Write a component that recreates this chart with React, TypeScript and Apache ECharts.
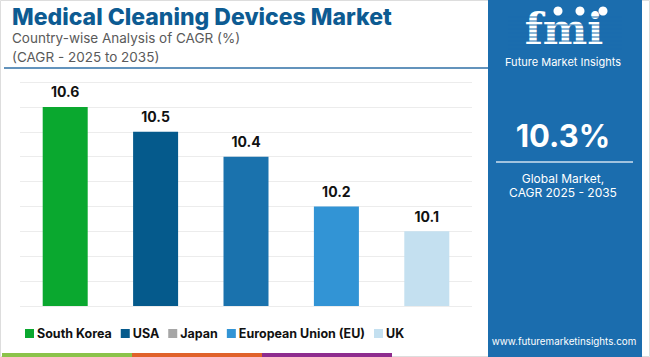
import React, { useEffect, useRef } from "react";
import * as echarts from "echarts";

const categories = ["South Korea", "USA", "Japan", "European Union (EU)", "UK"];
const values = [10.6, 10.5, 10.4, 10.2, 10.1];
const barColors = ["#0aa82f", "#055a8c", "#1a72ad", "#3294d5", "#c4e0f0"];
const legendColors = ["#0aa82f", "#055a8c", "#a6a6a6", "#3294d5", "#c4e0f0"];
const yMin = 9.8;
const yMax = 10.7;
const yStep = 0.1;
const titleText = "Medical Cleaning Devices Market";
const subtitleLines = ["Country-wise Analysis of CAGR (%)", "(CAGR - 2025 to 2035)"];
const globalValue = "10.3%";
const globalLines = ["Global Market,", "CAGR 2025 - 2035"];
const website = "www.futuremarketinsights.com";

const FONT = "Inter, 'Open Sans', sans-serif";

export default function App() {
  const ref = useRef<HTMLDivElement>(null);
  useEffect(() => {
    if (!ref.current) return;
    const chart = echarts.init(ref.current, null, { renderer: "svg" });
    const series = categories.map((name, i) => ({
      name,
      type: "bar",
      barGap: "-100%",
      barWidth: 45,
      data: values.map((v, j) => (j === i ? v : null)),
      itemStyle: { color: barColors[i] },
      label: {
        show: true,
        position: "top",
        distance: 8,
        color: "#111",
        fontFamily: FONT,
        fontWeight: 700,
        fontSize: 14,
        formatter: (p: any) => String(p.value),
      },
    }));
    const stripes: any[] = [];
    for (let y = 17; y <= 49; y += 4) {
      stripes.push({
        type: "line",
        shape: { x1: 508, y1: y, x2: 622, y2: y },
        style: { stroke: "#1b6dae", lineWidth: 1.2 },
        z: 20,
      });
    }
    chart.setOption({
      animation: false,
      backgroundColor: "#ffffff",
      grid: { left: 20, right: 178, top: 82, bottom: 51 },
      xAxis: {
        type: "category",
        data: categories,
        axisLine: { show: false },
        axisTick: { show: false },
        axisLabel: { show: false },
      },
      yAxis: {
        type: "value",
        min: yMin,
        max: yMax,
        interval: yStep,
        axisLabel: { show: false },
        axisLine: { show: false },
        axisTick: { show: false },
        splitLine: { lineStyle: { color: "#ececec", width: 1 } },
      },
      legend: {
        left: 20,
        top: 322,
        itemWidth: 9,
        itemHeight: 9,
        itemGap: 9,
        icon: "rect",
        textStyle: { fontFamily: FONT, fontWeight: 700, fontSize: 12.5, color: "#111", padding: [0, 0, 0, -2] },
        data: categories.map((name, i) => ({ name, itemStyle: { color: legendColors[i] } })),
      },
      series,
      graphic: [
        { type: "rect", shape: { x: 0.5, y: 0.5, width: 649, height: 356 }, style: { fill: "none", stroke: "#dddddd", lineWidth: 1 }, silent: true },
        { type: "text", x: 12, y: 17, style: { text: titleText, font: `800 23px ${FONT}`, lineHeight: 23, fill: "#0d5b92", verticalAlign: "middle" } },
        { type: "text", x: 12, y: 38, style: { text: subtitleLines[0], font: `400 13.5px ${FONT}`, lineHeight: 15, fill: "#5a5a5a", verticalAlign: "middle" } },
        { type: "text", x: 12, y: 57, style: { text: subtitleLines[1], font: `400 13.5px ${FONT}`, lineHeight: 15, fill: "#5a5a5a", verticalAlign: "middle" } },
        { type: "line", shape: { x1: 4, y1: 68, x2: 488, y2: 68 }, style: { stroke: "#2f6fa6", lineWidth: 1.5 } },
        { type: "rect", shape: { x: 488, y: 0, width: 154, height: 357 }, style: { fill: "#1b6dae" } },
        { type: "rect", shape: { x: 2, y: 353, width: 130, height: 4 }, style: { fill: "#8bc34a" } },
        { type: "rect", shape: { x: 132, y: 353, width: 130, height: 4 }, style: { fill: "#e0622a" } },
        { type: "rect", shape: { x: 262, y: 353, width: 130, height: 4 }, style: { fill: "#8e2c8e" } },
        { type: "text", x: 564, y: 29, z: 10, style: { text: "fmi", font: `700 42px 'DejaVu Serif', serif`, lineHeight: 34, fill: "#ffffff", align: "center", verticalAlign: "middle" } },
        ...stripes,
        { type: "circle", shape: { cx: 558, cy: 11, r: 4.5 }, style: { fill: "#ffffff" }, z: 21 },
        { type: "circle", shape: { cx: 580, cy: 11, r: 4.5 }, style: { fill: "#ffffff" }, z: 21 },
        { type: "circle", shape: { cx: 603, cy: 11, r: 4.5 }, style: { fill: "#ffffff" }, z: 21 },
        { type: "text", x: 563, y: 62, z: 21, style: { text: "Future Market Insights", font: `400 11px ${FONT}`, lineHeight: 12, fill: "#ffffff", align: "center", verticalAlign: "middle" } },
        { type: "text", x: 563, y: 135, style: { text: globalValue, font: `700 31px ${FONT}`, lineHeight: 32, fill: "#ffffff", align: "center", verticalAlign: "middle" } },
        { type: "line", shape: { x1: 496, y1: 162, x2: 633, y2: 162 }, style: { stroke: "#cfe0ef", lineWidth: 1.5 } },
        { type: "text", x: 563, y: 185, style: { text: globalLines.join("\n"), font: `400 12px ${FONT}`, lineHeight: 14, fill: "#ffffff", align: "center", verticalAlign: "middle" } },
        { type: "text", x: 564, y: 341, style: { text: website, font: `400 9.8px ${FONT}`, lineHeight: 11, fill: "#ffffff", align: "center", verticalAlign: "middle" } },
      ],
    });
    return () => chart.dispose();
  }, []);
  return <div ref={ref} style={{ position: "fixed", left: 0, top: 0, width: 650, height: 357 }} />;
}
